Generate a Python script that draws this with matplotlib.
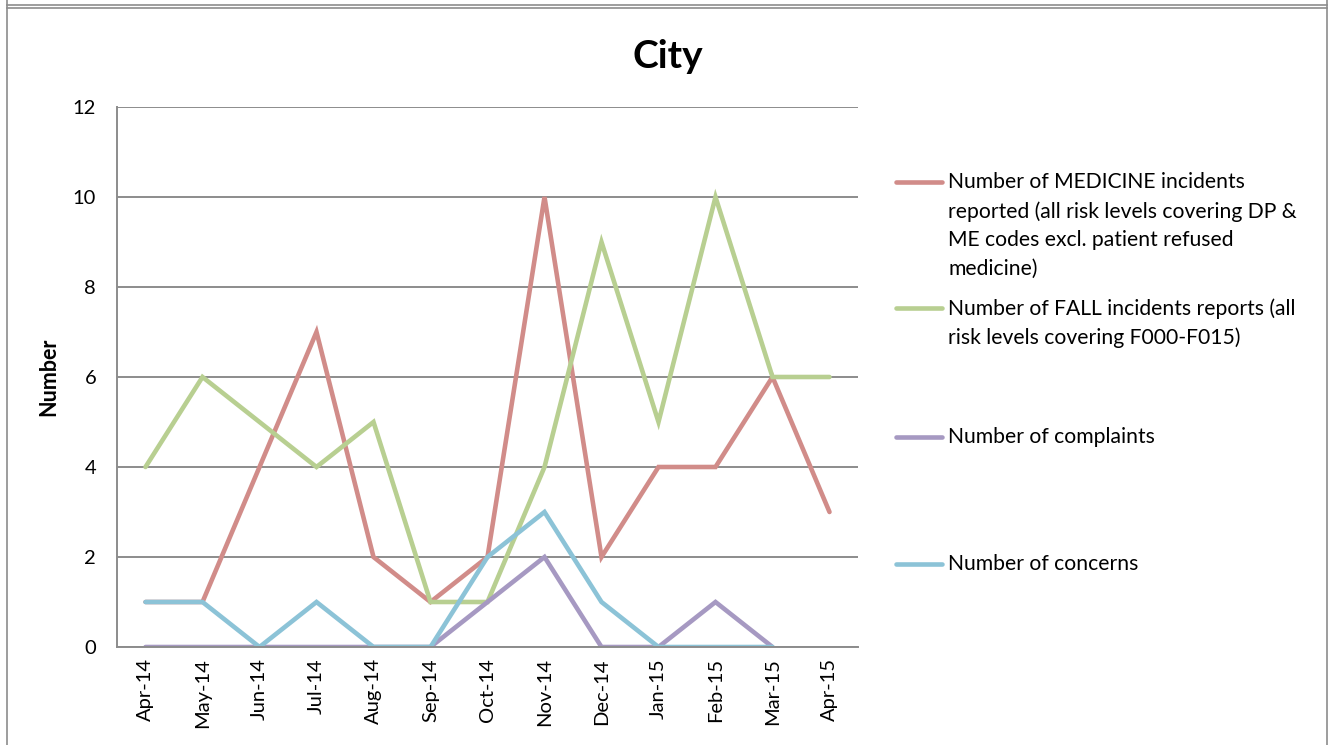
import matplotlib
matplotlib.use("Agg")
import matplotlib.pyplot as plt
from matplotlib.lines import Line2D
import numpy as np

months = ["Apr-14", "May-14", "Jun-14", "Jul-14", "Aug-14", "Sep-14", "Oct-14",
          "Nov-14", "Dec-14", "Jan-15", "Feb-15", "Mar-15", "Apr-15"]
medicine = [1, 1, 4, 7, 2, 1, 2, 10, 2, 4, 4, 6, 3]
falls = [4, 6, 5, 4, 5, 1, 1, 4, 9, 5, 10, 6, 6]
complaints = [0, 0, 0, 0, 0, 0, 1, 2, 0, 0, 1, 0, np.nan]
concerns = [1, 1, 0, 1, 0, 0, 2, 3, 1, 0, 0, 0, np.nan]

labels = [
    "Number of MEDICINE incidents\nreported (all risk levels covering DP &\nME codes excl. patient refused\nmedicine)",
    "Number of FALL incidents reports (all\nrisk levels covering F000-F015)",
    "Number of complaints",
    "Number of concerns",
]
series = [medicine, falls, complaints, concerns]
colors = ["#D18C89", "#B8CF91", "#A699C2", "#8CC3D7"]

plt.rcParams['font.family'] = ['Lato', 'DejaVu Sans']

W, H = 1334, 745
fig = plt.figure(figsize=(W / 100, H / 100), dpi=100)

def fx(px):
    return px / W

def fy(py):
    return 1 - py / H

ax = fig.add_axes([fx(117), fy(647), fx(858) - fx(117), fy(107) - fy(647)])
x = np.arange(len(months))
for vals, c in zip(series, colors):
    ax.plot(x, vals, color=c, lw=3.3, solid_capstyle='round', solid_joinstyle='miter')

ax.set_xlim(-0.5, len(months) - 0.5)
ax.set_ylim(0, 12)
ax.set_yticks(range(0, 13, 2))
ax.set_xticks(x)
ax.set_xticklabels(months, rotation=90, fontsize=14.5)
ax.tick_params(axis='both', length=0, colors='black')
ax.tick_params(axis='y', labelsize=14.5, pad=15)
ax.tick_params(axis='x', pad=8)
ax.grid(axis='y', color='#8C8C8C', lw=1.4)
ax.set_axisbelow(True)
for s in ['top', 'right']:
    ax.spines[s].set_visible(False)
for s in ['left', 'bottom']:
    ax.spines[s].set_color('#8C8C8C')
    ax.spines[s].set_linewidth(1.4)
ax.set_ylabel("Number", fontsize=15.5, fontweight='bold', labelpad=10)

fig.text(fx(668), fy(56), "City", fontsize=28, fontweight='bold', ha='center', va='center')

# legend
leg_y = [182, 308, 437, 564]
for lab, c, yy in zip(labels, colors, leg_y):
    fig.add_artist(Line2D([fx(896), fx(942)], [fy(yy), fy(yy)], color=c, lw=3.3,
                          solid_capstyle='round', transform=fig.transFigure))
    fig.text(fx(948), fy(yy - 10), lab, fontsize=15.2, ha='left', va='top',
             linespacing=1.54)

# frame
for yy in [5, 8]:
    fig.add_artist(Line2D([fx(7), fx(1327)], [fy(yy), fy(yy)], color='#8C8C8C', lw=1.2,
                          transform=fig.transFigure))
for xx in [7, 1327]:
    fig.add_artist(Line2D([fx(xx), fx(xx)], [0, 1], color='#8C8C8C', lw=1.2,
                          transform=fig.transFigure))

fig.savefig("out.png", dpi=100)
